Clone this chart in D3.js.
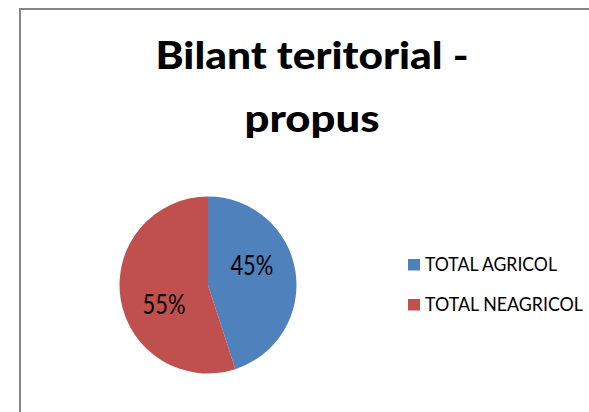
<!DOCTYPE html>
<html>
<head>
<meta charset="utf-8">
<script src="https://cdn.jsdelivr.net/npm/d3@7/dist/d3.min.js"></script>
<style>
  html, body { margin: 0; padding: 0; background: #fff; }
  svg { display: block; }
  text { font-family: Lato, "Open Sans", "Liberation Sans", sans-serif; fill: #000; }
</style>
</head>
<body>
<svg id="chart" width="589" height="412"></svg>
<script>
// Land balance: agricultural vs non-agricultural share
const titleLines = ["Bilant teritorial -", "propus"];
const categories = ["TOTAL AGRICOL", "TOTAL NEAGRICOL"];
const values = [45, 55];
const colors = ["#4F81BD", "#C0504D"];

const svg = d3.select("#chart");
const W = 589, H = 412;

// chart area frame (only top and left edges fall inside the view)
svg.append("rect")
  .attr("x", 20).attr("y", 9)
  .attr("width", W + 20).attr("height", H + 20)
  .attr("fill", "#fff")
  .attr("stroke", "#878787")
  .attr("stroke-width", 2);

// title
const titleBase = [69, 132];
const titleWidth = [313, 135];
titleLines.forEach((t, i) => {
  svg.append("text")
    .attr("x", 312).attr("y", titleBase[i])
    .attr("text-anchor", "middle")
    .attr("font-weight", "900")
    .attr("font-size", 37)
    .attr("textLength", titleWidth[i])
    .attr("lengthAdjust", "spacingAndGlyphs")
    .text(t);
});

// pie
const cx = 208, cy = 285, r = 88.5;
const data = categories.map((c, i) => ({ name: c, value: values[i], color: colors[i] }));
const pie = d3.pie().sort(null).value(d => d.value);
const arcs = pie(data);
const arc = d3.arc().innerRadius(0).outerRadius(r);

const g = svg.append("g").attr("transform", `translate(${cx},${cy})`);
g.selectAll("path.slice")
  .data(arcs)
  .join("path")
  .attr("class", "slice")
  .attr("d", arc)
  .attr("fill", d => d.data.color);

// percentage labels placed inside each slice
const total = d3.sum(values);
const labelShift = -0.26;
const labelArc = d3.arc().innerRadius(48).outerRadius(48);
g.selectAll("text.pct")
  .data(arcs)
  .join("text")
  .attr("class", "pct")
  .attr("transform", d => {
    const c = labelArc.centroid({ startAngle: d.startAngle + labelShift, endAngle: d.endAngle + labelShift });
    return `translate(${c[0]},${c[1]})`;
  })
  .attr("text-anchor", "middle")
  .attr("dy", "0.36em")
  .attr("font-size", 26)
  .attr("textLength", 43)
  .attr("lengthAdjust", "spacingAndGlyphs")
  .text(d => Math.round(d.data.value / total * 100) + "%");

// legend
const legendW = [132, 158];
const legend = svg.append("g").attr("transform", "translate(408,259)");
const item = legend.selectAll("g.item")
  .data(data)
  .join("g")
  .attr("class", "item")
  .attr("transform", (d, i) => `translate(0,${i * 40})`);
item.append("rect")
  .attr("width", 12).attr("height", 11.5)
  .attr("fill", d => d.color);
item.append("text")
  .attr("x", 17).attr("y", 12)
  .attr("font-size", 18.5)
  .attr("textLength", (d, i) => legendW[i])
  .attr("lengthAdjust", "spacingAndGlyphs")
  .text(d => d.name);
</script>
</body>
</html>
